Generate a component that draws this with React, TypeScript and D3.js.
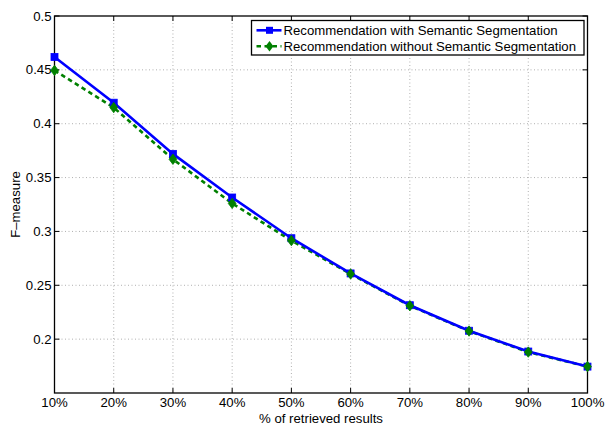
import React from 'react';
import { scaleLinear, line } from 'd3';

const percents = [10, 20, 30, 40, 50, 60, 70, 80, 90, 100];
const withSeg = [0.462, 0.4195, 0.372, 0.3315, 0.2937, 0.261, 0.2315, 0.2078, 0.1885, 0.1745];
const withoutSeg = [0.4495, 0.415, 0.367, 0.326, 0.2915, 0.2605, 0.231, 0.2075, 0.188, 0.1745];
const yTicks = [0.2, 0.25, 0.3, 0.35, 0.4, 0.45, 0.5];
const seriesNames = [
  'Recommendation with Semantic Segmentation',
  'Recommendation without Semantic Segmentation',
];

const width = 605;
const height = 424;
const margin = { top: 16, right: 17.5, bottom: 31, left: 54.5 };
const font = '"Liberation Sans", Arial, Helvetica, sans-serif';
const fs = 13.2;

const App = () => {
  const innerW = width - margin.left - margin.right;
  const innerH = height - margin.top - margin.bottom;

  const x = scaleLinear().domain([10, 100]).range([0, innerW]);
  const y = scaleLinear().domain([0.15, 0.5]).range([innerH, 0]);

  const mk = (vals: number[]) =>
    line<number>()
      .x((_, i) => x(percents[i]))
      .y(d => y(d))(vals) || '';

  const diamond = (cx: number, cy: number, r: number) =>
    `M${cx},${cy - r}L${cx + r * 0.75},${cy}L${cx},${cy + r}L${cx - r * 0.75},${cy}Z`;

  const tick = 5;

  return (
    <svg width={width} height={height} style={{ position: 'absolute', left: 0, top: 0, background: '#fff' }}>
      <rect x={0} y={0} width={width} height={height} fill="#fff" />
      <g transform={`translate(${margin.left}, ${margin.top})`} fontFamily={font} fontSize={fs}>
        {/* grid */}
        {percents.slice(1, -1).map(p => (
          <line key={'gx' + p} x1={x(p)} x2={x(p)} y1={0} y2={innerH}
            stroke="#b0b0b0" strokeWidth={1} strokeDasharray="1,2.5" />
        ))}
        {yTicks.slice(0, -1).map(t => (
          <line key={'gy' + t} x1={0} x2={innerW} y1={y(t)} y2={y(t)}
            stroke="#b0b0b0" strokeWidth={1} strokeDasharray="1,2.5" />
        ))}

        {/* ticks on all four sides */}
        {percents.map(p => (
          <g key={'tx' + p}>
            <line x1={x(p)} x2={x(p)} y1={innerH} y2={innerH - tick} stroke="#000" />
            <line x1={x(p)} x2={x(p)} y1={0} y2={tick} stroke="#000" />
            <text x={x(p)} y={innerH + 14} textAnchor="middle" fill="#000">{p}%</text>
          </g>
        ))}
        {yTicks.map(t => (
          <g key={'ty' + t}>
            <line x1={0} x2={tick} y1={y(t)} y2={y(t)} stroke="#000" />
            <line x1={innerW} x2={innerW - tick} y1={y(t)} y2={y(t)} stroke="#000" />
            <text x={-3} y={y(t)} dy="0.35em" textAnchor="end" fill="#000">{String(+t.toFixed(2))}</text>
          </g>
        ))}

        <rect x={0} y={0} width={innerW} height={innerH} fill="none" stroke="#000" strokeWidth={1.3} />

        {/* series */}
        <path d={mk(withoutSeg)} fill="none" stroke="#008000" strokeWidth={2.6} strokeDasharray="4.5,3.5" />
        <path d={mk(withSeg)} fill="none" stroke="#0000ff" strokeWidth={2.6} />
        {withSeg.map((v, i) => (
          <rect key={'s' + i} x={x(percents[i]) - 3.5} y={y(v) - 3.5} width={7} height={7}
            fill="#0000ff" stroke="#0000ff" strokeWidth={0.8} />
        ))}
        {withoutSeg.map((v, i) => (
          <path key={'d' + i} d={diamond(x(percents[i]), y(v), 5.2)} fill="#008000" stroke="#008000" strokeWidth={0.8} />
        ))}

        {/* axis titles */}
        <text x={innerW / 2} y={innerH + 29.5} textAnchor="middle" fill="#000">% of retrieved results</text>
        <text transform={`translate(${-34.5}, ${innerH / 2}) rotate(-90)`} textAnchor="middle" fill="#000">F–measure</text>

        {/* legend */}
        <g transform={`translate(${251.5 - margin.left}, ${20.5 - margin.top})`}>
          <rect x={0} y={0} width={332.5} height={34.5} fill="#fff" stroke="#000" strokeWidth={1.3} />
          <line x1={5} x2={30} y1={9.8} y2={9.8} stroke="#0000ff" strokeWidth={2.6} />
          <rect x={14.5} y={6.3} width={7} height={7} fill="#0000ff" />
          <text x={32} y={9.8} dy="0.35em" fill="#000">{seriesNames[0]}</text>
          <line x1={5} x2={30} y1={25.8} y2={25.8} stroke="#008000" strokeWidth={2.6} strokeDasharray="4.5,3.5" />
          <path d={diamond(18, 25.8, 5.2)} fill="#008000" />
          <text x={32} y={25.8} dy="0.35em" fill="#000">{seriesNames[1]}</text>
        </g>
      </g>
    </svg>
  );
};

export default App;
